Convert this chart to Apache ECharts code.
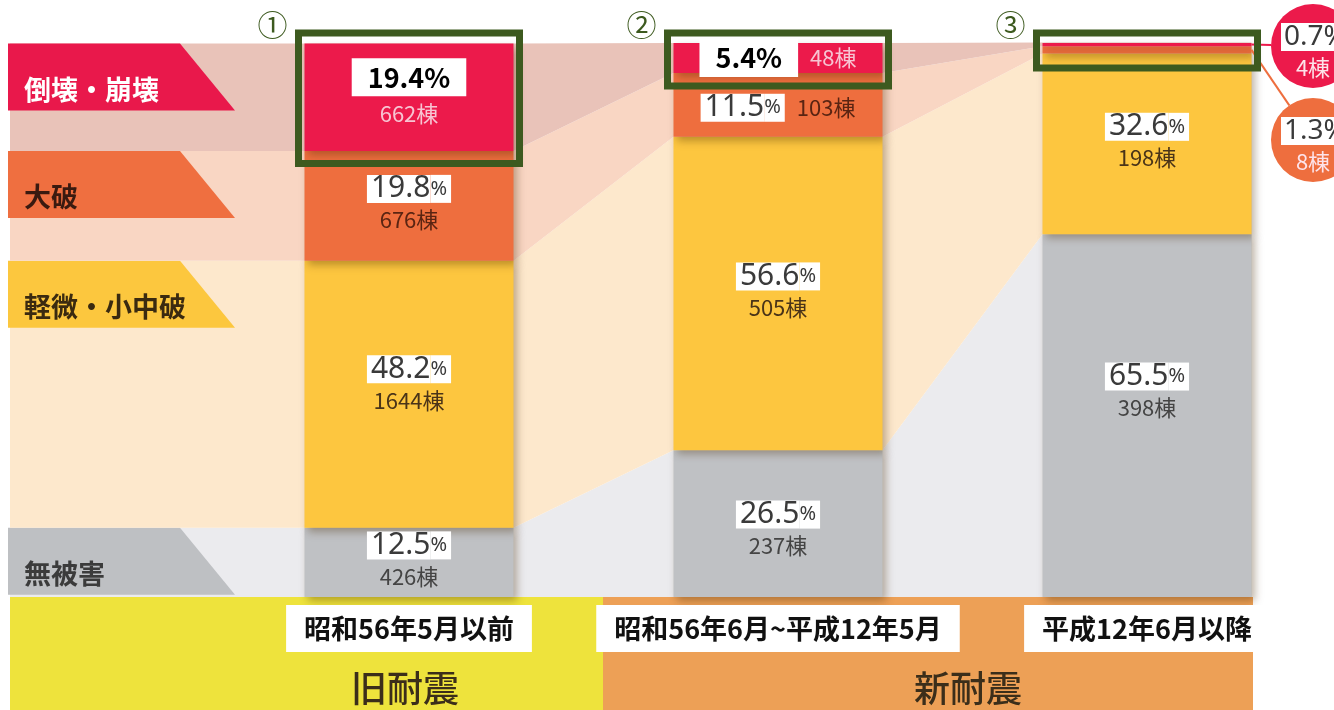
<!DOCTYPE html>
<html>
<head>
<meta charset="utf-8">
<script src="https://cdn.jsdelivr.net/npm/echarts@6/dist/echarts.min.js"></script>
<style>
  html, body { margin: 0; padding: 0; background: #fff; }
  #main { width: 1334px; height: 710px; }
</style>
</head>
<body>
<div id="main"></div>
<script>
// data
var periods = ['昭和56年5月以前', '昭和56年6月~平成12年5月', '平成12年6月以降'];
var periodMarks = ['①', '②', '③'];
var codeGroups = ['旧耐震', '新耐震'];
var levels = ['無被害', '軽微・小中破', '大破', '倒壊・崩壊']; // bottom -> top
var pctNone = [12.5, 26.5, 65.5];
var pctMinor = [48.2, 56.6, 32.6];
var pctMajor = [19.8, 11.5, 1.3];
var pctCollapse = [19.4, 5.4, 0.7];
var cntNone = [426, 237, 398];
var cntMinor = [1644, 505, 198];
var cntMajor = [676, 103, 8];
var cntCollapse = [662, 48, 4];

var pcts = [pctNone, pctMinor, pctMajor, pctCollapse];
var counts = [cntNone, cntMinor, cntMajor, cntCollapse];

// look
var BAR_W = 209;
var BAND_LEFT = 10;
var barColors = ['#bfc1c4', '#fdc63f', '#ee6e3e', '#ec1a4b'];
var bandColors = ['#ebebee', '#fde8cc', '#f9d6c3', '#e9c3b9'];
var tabColors = ['#bec0c3', '#fcc73e', '#ef6f40', '#e9184b'];
var tabTextColors = ['#3b3b3b', '#3a2a10', '#3a1a10', '#ffffff'];
var countColors = ['#444444', '#4a3418', '#5a2412', '#f7c4d2'];
var GREEN = '#3d5a1f';
var calloutPos = [null, null, [1313, 140], [1313, 46]];
// label nudges [level][period] in px
var labelShift = [[0, 8, -22], [-8, 0, 0], [0, 3, 0], [-3, 0, 0]];
var CJK = '"Noto Sans CJK JP", "Noto Sans", sans-serif';

var chart = echarts.init(document.getElementById('main'));

function labelFor(k, i) {
  var v = pcts[k][i];
  var c = counts[k][i] + '棟';
  if (v < 2) return { show: false };
  var pct = k === 3 ? '{h|' + v + '%}' : '{p|' + v + '}{s|%}';
  var off = [0, labelShift[k][i]];
  if (v < 12) return { formatter: pct + '{ci|' + c + '}', offset: off };
  return { formatter: pct + '\n{c|' + c + '}', offset: off };
}

function barSeries(k) {
  return {
    name: levels[k],
    type: 'bar',
    stack: 'all',
    barWidth: BAR_W,
    z: 3,
    itemStyle: {
      color: barColors[k],
      shadowBlur: 8,
      shadowColor: 'rgba(70,40,0,0.35)',
      shadowOffsetX: 3,
      shadowOffsetY: 4
    },
    label: {
      show: true,
      position: 'inside',
      rich: {
        p: { fontFamily: 'Noto Sans', fontSize: 30, color: '#3a3a3a', backgroundColor: '#fff', height: 28, padding: [0, 0, 0, 4] },
        s: { fontFamily: 'Noto Sans', fontSize: 20, color: '#3a3a3a', backgroundColor: '#fff', height: 28, padding: [0, 4, 0, 0] },
        h: { fontFamily: CJK, fontSize: 27, fontWeight: 'bold', color: '#000', backgroundColor: '#fff', height: 38, padding: [0, 16] },
        c: { fontFamily: CJK, fontSize: 22, color: countColors[k], lineHeight: 34 },
        ci: { fontFamily: CJK, fontSize: 22, color: countColors[k], padding: [0, 0, 0, 12] }
      }
    },
    data: pcts[k].map(function (v, i) {
      return { value: v, label: labelFor(k, i) };
    })
  };
}

function cum(k, i) {
  var s = 0;
  for (var j = 0; j < k; j++) s += pcts[j][i];
  return s;
}

function renderBand(params, api) {
  var k = api.value(2);
  var half = BAR_W / 2;
  var top = [], bot = [];
  for (var i = 0; i < periods.length; i++) {
    var lo = cum(k, i), hi = lo + pcts[k][i];
    var pLo = api.coord([i, lo]), pHi = api.coord([i, hi]);
    if (i === 0) {
      top.push([BAND_LEFT, pHi[1]]);
      bot.push([BAND_LEFT, pLo[1]]);
    }
    top.push([pHi[0] - half, pHi[1]], [pHi[0] + half, pHi[1]]);
    bot.push([pLo[0] - half, pLo[1]], [pLo[0] + half, pLo[1]]);
  }
  var y0 = top[0][1];
  return {
    type: 'group',
    children: [
      { type: 'polygon', shape: { points: top.concat(bot.reverse()) }, style: { fill: bandColors[k] } },
      { type: 'polygon', shape: { points: [[8, y0], [180, y0], [235, y0 + 67], [8, y0 + 67]] }, style: { fill: tabColors[k] } },
      { type: 'text', x: 24, y: y0 + 46, style: { text: levels[k], fill: tabTextColors[k], font: 'bold 27px ' + CJK, verticalAlign: 'middle' } }
    ]
  };
}

function renderHighlight(params, api) {
  var i = api.value(0);
  var half = BAR_W / 2;
  var pTop = api.coord([i, 100]);
  var pCut = api.coord([i, 100 - pctCollapse[i]]);
  var y1 = pTop[1] - 10;
  var y2 = Math.max(pCut[1] + 13, y1 + 35);
  var x1 = pTop[0] - half - 6, x2 = pTop[0] + half + 6;
  return {
    type: 'group',
    children: [
      { type: 'rect', shape: { x: x1, y: y1, width: x2 - x1, height: y2 - y1 }, style: { fill: null, stroke: GREEN, lineWidth: 7 } },
      { type: 'text', x: x1 - 26, y: 25, style: { text: periodMarks[i], fill: GREEN, font: '30px ' + CJK, align: 'center', verticalAlign: 'middle' } }
    ]
  };
}

function renderCallout(params, api) {
  var i = api.value(0), k = api.value(2);
  var lo = cum(k, i), hi = lo + pcts[k][i];
  var p = api.coord([i, (lo + hi) / 2]);
  var xr = p[0] + BAR_W / 2;
  var c = calloutPos[k];
  var r = 42;
  var ang = Math.atan2(p[1] - c[1], xr - c[0]);
  return {
    type: 'group',
    children: [
      { type: 'line', shape: { x1: xr, y1: p[1], x2: c[0] + r * Math.cos(ang), y2: c[1] + r * Math.sin(ang) }, style: { stroke: barColors[k], lineWidth: 2 } },
      { type: 'circle', shape: { cx: c[0], cy: c[1], r: r }, style: { fill: barColors[k] } },
      { type: 'text', x: c[0] - 32, y: c[1] - 9, style: { text: pcts[k][i] + '%', fill: '#3a3a3a', font: '28px "Noto Sans"', backgroundColor: '#fff', padding: [0, 3], verticalAlign: 'middle' } },
      { type: 'text', x: c[0], y: c[1] + 22, style: { text: counts[k][i] + '棟', fill: '#fde3ea', font: '22px ' + CJK, align: 'center', verticalAlign: 'middle' } }
    ]
  };
}

var series = [
  {
    type: 'custom',
    z: 1,
    silent: true,
    renderItem: renderBand,
    data: levels.map(function (l, k) { return [0, 0, k]; })
  }
];
for (var k = 0; k < levels.length; k++) series.push(barSeries(k));
series.push({
  type: 'custom',
  z: 5,
  silent: true,
  renderItem: renderHighlight,
  data: periods.map(function (p, i) { return [i, 0]; })
});
series.push({
  type: 'custom',
  z: 4,
  silent: true,
  renderItem: renderCallout,
  data: [[2, 0, 3], [2, 0, 2]]
});

chart.setOption({
  backgroundColor: '#fff',
  animation: false,
  grid: { left: 224.5, right: 2.5, top: 43, bottom: 113 },
  xAxis: {
    type: 'category',
    data: periods,
    axisLine: { show: false },
    axisTick: { show: false },
    axisLabel: {
      interval: 0,
      margin: 8,
      fontFamily: CJK,
      fontSize: 27,
      fontWeight: 'bold',
      color: '#111',
      backgroundColor: '#fff',
      padding: [10, 18]
    },
    z: 10
  },
  yAxis: { type: 'value', min: 0, max: 100, show: false },
  graphic: [
    { type: 'rect', z: -10, shape: { x: 10, y: 597, width: 593, height: 113 }, style: { fill: '#eee33c' } },
    { type: 'rect', z: -10, shape: { x: 603, y: 597, width: 650, height: 113 }, style: { fill: '#eda056' } },
    { type: 'text', z: -9, x: 405, y: 688, style: { text: codeGroups[0], fill: '#3b2e1a', font: '500 36px ' + CJK, align: 'center', verticalAlign: 'middle' } },
    { type: 'text', z: -9, x: 968, y: 688, style: { text: codeGroups[1], fill: '#3b2e1a', font: '500 36px ' + CJK, align: 'center', verticalAlign: 'middle' } }
  ],
  series: series
});
</script>
</body>
</html>
